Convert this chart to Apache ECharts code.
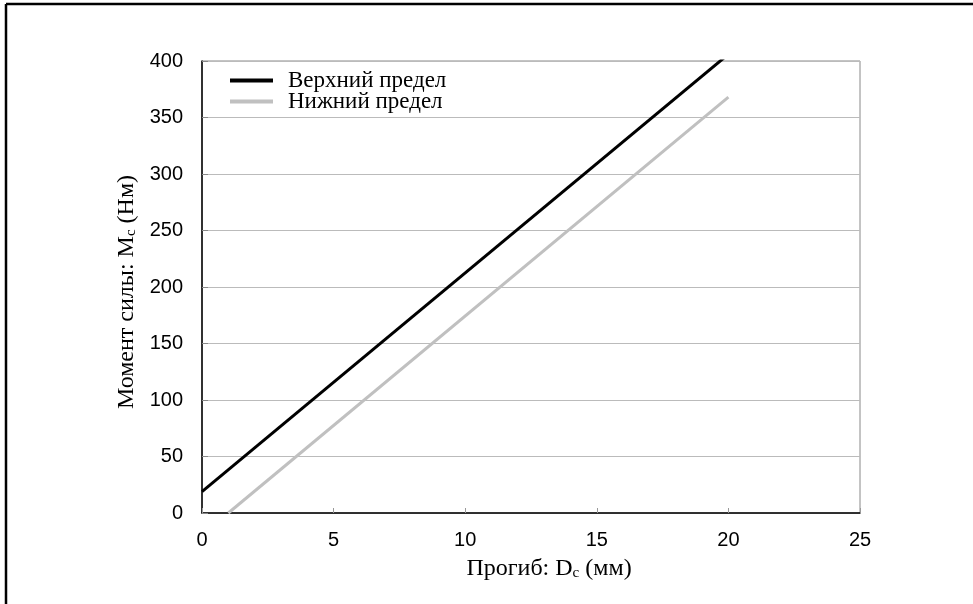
<!DOCTYPE html>
<html>
<head>
<meta charset="utf-8">
<script src="https://cdn.jsdelivr.net/npm/echarts@6/dist/echarts.min.js"></script>
<style>html,body{margin:0;padding:0;background:#fff;}#c{width:973px;height:604px;}</style>
</head>
<body>
<div id="c"></div>
<script>
const seriesNames = ['Верхний предел', 'Нижний предел'];
const upperDeflection = [0, 20];
const upperMoment = [19, 406];
const lowerDeflection = [1, 20];
const lowerMoment = [0, 368];
const xTicks = [0, 5, 10, 15, 20, 25];
const yTicks = [0, 50, 100, 150, 200, 250, 300, 350, 400];

const chart = echarts.init(document.getElementById('c'));
const serif = '"Liberation Serif", "Times New Roman", serif';
const sans = '"Liberation Sans", Arial, sans-serif';
const sub = { fontSize: 15, fontFamily: serif, color: '#000', padding: [8, 0, 0, 0] };
chart.setOption({
  animation: false,
  backgroundColor: '#fff',
  graphic: [
    { type: 'line', shape: { x1: 6, y1: 4, x2: 973, y2: 4 }, style: { stroke: '#000', lineWidth: 2.5 } },
    { type: 'line', shape: { x1: 6, y1: 4, x2: 6, y2: 604 }, style: { stroke: '#000', lineWidth: 2.5 } }
  ],
  grid: { left: 202, right: 113, top: 61, bottom: 91, show: true, borderColor: '#888', borderWidth: 1 },
  legend: {
    left: 230, top: 69, orient: 'vertical', itemGap: -2, padding: 0,
    itemWidth: 43, itemHeight: 4, icon: 'rect',
    textStyle: { fontFamily: serif, fontSize: 23, lineHeight: 20, color: '#000', padding: [0, 0, 0, 10] },
    data: seriesNames
  },
  xAxis: {
    type: 'value', min: xTicks[0], max: xTicks[xTicks.length - 1], interval: 5,
    name: 'Прогиб: D{s|c} (мм)', nameLocation: 'middle', nameGap: 44,
    nameTextStyle: { fontFamily: serif, fontSize: 24, color: '#000', padding: [0, 0, 0, 36], rich: { s: sub } },
    axisLine: { lineStyle: { color: '#000', width: 1.5 } },
    axisTick: { inside: true, length: 5, lineStyle: { color: '#999' } },
    axisLabel: { fontFamily: sans, fontSize: 20, color: '#000', margin: 17 },
    splitLine: { show: false }
  },
  yAxis: {
    type: 'value', min: yTicks[0], max: yTicks[yTicks.length - 1], interval: 50,
    name: 'Момент силы: M{s|c} (Нм)', nameLocation: 'middle', nameGap: 61,
    nameTextStyle: { fontFamily: serif, fontSize: 24, color: '#000', padding: [0, 10, 0, 0], rich: { s: sub } },
    axisLine: { show: true, lineStyle: { color: '#000', width: 1.5 } },
    axisTick: { show: true, inside: true, length: 6, lineStyle: { color: '#888' } },
    axisLabel: { fontFamily: sans, fontSize: 20, color: '#000', margin: 19 },
    splitLine: { show: true, lineStyle: { color: '#bbb', width: 1 } }
  },
  series: [
    {
      name: seriesNames[0], type: 'line', symbol: 'none', clip: true,
      data: upperDeflection.map((x, i) => [x, upperMoment[i]]),
      lineStyle: { color: '#000', width: 3 }, itemStyle: { color: '#000' }
    },
    {
      name: seriesNames[1], type: 'line', symbol: 'none', clip: true,
      data: lowerDeflection.map((x, i) => [x, lowerMoment[i]]),
      lineStyle: { color: '#c0c0c0', width: 3 }, itemStyle: { color: '#c0c0c0' }
    }
  ]
});
</script>
</body>
</html>
